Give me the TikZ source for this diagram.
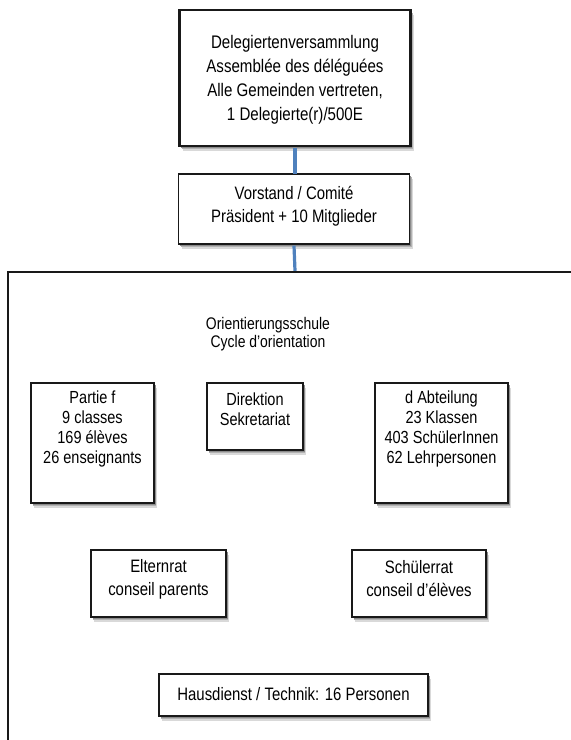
\documentclass[tikz,border=0pt]{standalone}
\usepackage{fontspec}
\setmainfont{Liberation Sans}[FakeStretch=0.83]
\definecolor{connblue}{RGB}{79,129,189}
\definecolor{boxline}{RGB}{25,25,25}
\begin{document}
\begin{tikzpicture}[x=1pt,y=-1pt,
  shad/.style={
    preaction={fill=black!15, transform canvas={xshift=3pt,yshift=-4.5pt}},
    preaction={fill=black!30, transform canvas={xshift=2.2pt,yshift=-3.2pt}},
    preaction={fill=black!45, transform canvas={xshift=1.5pt,yshift=-2pt}}},
  box/.style={draw=boxline, line width=1.6pt, fill=white, inner sep=0pt, shad},
  topbox/.style={draw=boxline, line width=2.2pt, fill=white, inner sep=0pt, shad},
  txt/.style={align=center, inner sep=0pt},
  conn/.style={draw=connblue, line width=3.2pt}]
\useasboundingbox[fill=white] (0,0) rectangle (571,740);
\coordinate (bigtop) at (295,272);
\node[topbox, minimum width=231pt, minimum height=136pt] (del) at (295,78) {};
\node[box, minimum width=231pt, minimum height=70pt] (vor) at (294,209) {};
% connectors
\draw[conn] (del.south) ++(0,1.2) -- ([yshift=-0.8pt]vor.north -| bigtop);
\draw[conn] (vor.south) ++(0,0.8) -- ([yshift=1.2pt]bigtop);
\node[txt, font=\fontsize{18.2}{24}\selectfont] (delt) at (295,80)
  {Delegiertenversammlung\\Assemblée des déléguées\\Alle Gemeinden vertreten,\\1 Delegierte(r)/500E};
\node[txt, font=\fontsize{18}{23.5}\selectfont] (vort) at (294,206)
  {Vorstand / Comité\\Präsident + 10 Mitglieder};
% big frame (clipped by the picture edges)
\draw[draw=boxline, line width=2.6pt] (bigtop) -- (573,272);
\draw[draw=boxline, line width=2.6pt] (bigtop) -- (8,272) -- (8,742);
\node[txt, font=\fontsize{16.8}{18}\selectfont] (ort) at (268,334)
  {Orientierungsschule\\Cycle d’orientation};
% boxes
\node[box, minimum width=123pt, minimum height=120pt] (pf) at (92.5,443) {};
\node[txt, font=\fontsize{17.5}{20}\selectfont] (pft) at (92.5,429)
  {Partie f\\9 classes\\169 élèves\\26 enseignants};
\node[box, minimum width=96pt, minimum height=67pt] (dir) at (255,416.5) {};
\node[txt, font=\fontsize{17.5}{20}\selectfont] (dirt) at (255,409)
  {Direktion\\Sekretariat};
\node[box, minimum width=133pt, minimum height=120pt] (da) at (441.5,443) {};
\node[txt, font=\fontsize{17.5}{20}\selectfont] (dat) at (441.5,429)
  {d Abteilung\\23 Klassen\\403 SchülerInnen\\62 Lehrpersonen};
\node[box, minimum width=135pt, minimum height=67pt] (elt) at (158.5,583.5) {};
\node[txt, font=\fontsize{18}{23}\selectfont] (eltt) at (158.5,579)
  {Elternrat\\conseil parents};
\node[box, minimum width=134pt, minimum height=67pt] (sch) at (419,583.5) {};
\node[txt, font=\fontsize{18}{23}\selectfont] (scht) at (419,579)
  {Schülerrat\\conseil d'élèves};
\node[box, minimum width=269pt, minimum height=42pt] (haus) at (293.5,695) {};
\node[txt, font=\fontsize{18}{20}\selectfont] (haust) at (293.5,694)
  {Hausdienst / Technik: 16 Personen};
\end{tikzpicture}
\end{document}
